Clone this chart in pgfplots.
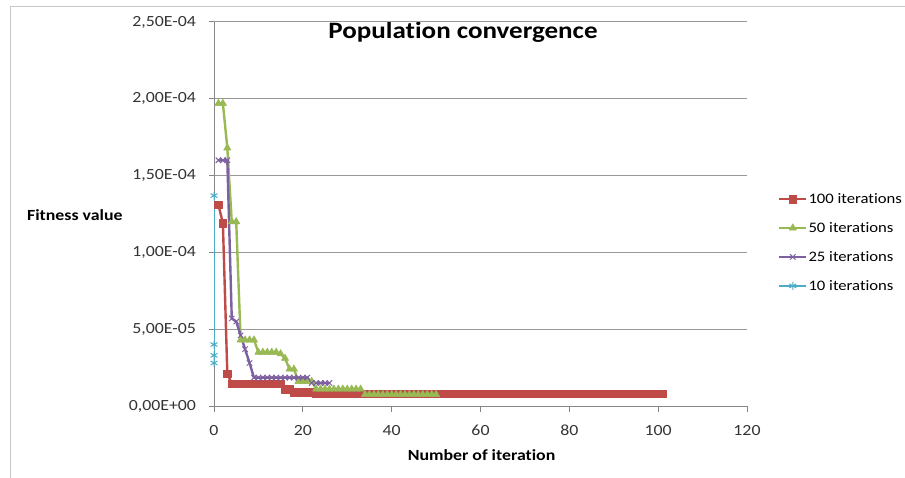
\documentclass[border=0pt]{standalone}
\usepackage{fontspec}
\setmainfont{Carlito}[FakeStretch=1.15, Ligatures=NoCommon]
\usepackage{pgfplots}
\pgfplotsset{compat=1.18}

\definecolor{sred}{HTML}{BE4B48}
\definecolor{sgreen}{HTML}{98B954}
\definecolor{spurple}{HTML}{7D60A0}
\definecolor{scyan}{HTML}{4BACC6}
\definecolor{axgray}{HTML}{868686}
\definecolor{gridgray}{HTML}{989898}
\definecolor{framegray}{HTML}{C8C8C8}

\begin{document}
\begin{tikzpicture}[x=1pt,y=1pt]
\useasboundingbox (0,0) rectangle (905,477);
\draw[framegray, line width=1.2pt] (10.5,-5) -- (10.5,470.5) -- (910,470.5);
\node[font=\fontsize{23.5}{26}\selectfont\bfseries, anchor=base] at (463,438.7) {Population convergence};
\begin{axis}[
  at={(214pt,71pt)}, anchor=south west,
  scale only axis, width=533pt, height=384pt,
  xmin=0, xmax=120, ymin=0, ymax=2.5e-4,
  axis lines=left,
  axis line style={-, draw=axgray, line width=1pt},
  xtick={0,20,...,120},
  ytick={0,5e-5,1e-4,1.5e-4,2e-4,2.5e-4},
  yticklabels={{0,00E+00},{5,00E-05},{1,00E-04},{1,50E-04},{2,00E-04},{2,50E-04}},
  scaled y ticks=false,
  /pgf/number format/assume math mode=true,
  ymajorgrids,
  grid style={draw=gridgray, line width=1pt},
  tick align=outside, major tick length=5.5pt,
  tick style={draw=axgray, line width=1pt},
  ticklabel style={font=\fontsize{15.5}{17}\selectfont, text=black!80},
  xticklabel style={yshift=-10pt},
  yticklabel style={xshift=-9pt},
  xlabel={Number of iteration},
  ylabel={Fitness value},
  every axis x label/.style={at={(axis description cs:0.502,-0.1425)}, anchor=base, font=\fontsize{15.5}{17}\selectfont\bfseries},
  every axis y label/.style={at={(axis description cs:-0.261,0.484)}, anchor=base, font=\fontsize{15.5}{17}\selectfont\bfseries},
  legend style={at={(axis description cs:1.058,0.426)}, anchor=west, draw=none, fill=none,
    inner sep=0pt, row sep=15.5pt, font=\fontsize{14.5}{16}\selectfont,
    nodes={inner sep=1pt}},
  legend cell align=left,
  legend image code/.code={\draw[#1, mark repeat=2, mark phase=2] plot coordinates {(0pt,0pt) (13.5pt,0pt) (27pt,0pt)};},
  every axis plot/.append style={line width=2.4pt, line join=round},
]
\addplot[sred, mark=square*, mark size=3.8pt, mark options={solid, line width=0.5pt}] coordinates {
(1,1.31e-4) (2,1.19e-4) (3,2.1e-5) (4,1.45e-5) (5,1.45e-5) (6,1.45e-5) (7,1.45e-5) (8,1.45e-5)
(9,1.45e-5) (10,1.45e-5) (11,1.45e-5) (12,1.45e-5) (13,1.45e-5) (14,1.45e-5) (15,1.45e-5)
(16,1.1e-5) (17,1.1e-5) (18,9e-6) (19,9e-6) (20,9e-6) (21,9e-6) (22,9e-6)
(23,8e-6) (24,8e-6) (25,8e-6) (26,8e-6) (27,8e-6) (28,8e-6) (29,8e-6) (30,8e-6)
(31,8e-6) (32,8e-6) (33,8e-6) (34,8e-6) (35,8e-6) (36,8e-6) (37,8e-6) (38,8e-6)
(39,8e-6) (40,8e-6) (41,8e-6) (42,8e-6) (43,8e-6) (44,8e-6) (45,8e-6) (46,8e-6)
(47,8e-6) (48,8e-6) (49,8e-6) (50,8e-6) (51,8e-6) (52,8e-6) (53,8e-6) (54,8e-6)
(55,8e-6) (56,8e-6) (57,8e-6) (58,8e-6) (59,8e-6) (60,8e-6) (61,8e-6) (62,8e-6)
(63,8e-6) (64,8e-6) (65,8e-6) (66,8e-6) (67,8e-6) (68,8e-6) (69,8e-6) (70,8e-6)
(71,8e-6) (72,8e-6) (73,8e-6) (74,8e-6) (75,8e-6) (76,8e-6) (77,8e-6) (78,8e-6)
(79,8e-6) (80,8e-6) (81,8e-6) (82,8e-6) (83,8e-6) (84,8e-6) (85,8e-6) (86,8e-6)
(87,8e-6) (88,8e-6) (89,8e-6) (90,8e-6) (91,8e-6) (92,8e-6) (93,8e-6) (94,8e-6)
(95,8e-6) (96,8e-6) (97,8e-6) (98,8e-6) (99,8e-6) (100,8e-6) (101,8e-6)
};
\addlegendentry{100 iterations}
\addplot[sgreen, mark=triangle*, mark size=4.2pt, mark options={solid, line width=0.5pt}] coordinates {
(1,1.97e-4) (2,1.97e-4) (3,1.68e-4) (4,1.2e-4) (5,1.2e-4) (6,4.3e-5) (7,4.3e-5) (8,4.3e-5)
(9,4.3e-5) (10,3.5e-5) (11,3.5e-5) (12,3.5e-5) (13,3.5e-5) (14,3.5e-5) (15,3.4e-5)
(16,3.1e-5) (17,2.4e-5) (18,2.4e-5) (19,1.6e-5) (20,1.6e-5) (21,1.6e-5) (22,1.6e-5)
(23,1.1e-5) (24,1.1e-5) (25,1.1e-5) (26,1.1e-5) (27,1.1e-5) (28,1.1e-5) (29,1.1e-5)
(30,1.1e-5) (31,1.1e-5) (32,1.1e-5) (33,1.1e-5) (34,7.5e-6) (35,7.5e-6) (36,7.5e-6)
(37,7.5e-6) (38,7.5e-6) (39,7.5e-6) (40,7.5e-6) (41,7.5e-6) (42,7.5e-6) (43,7.5e-6)
(44,7.5e-6) (45,7.5e-6) (46,7.5e-6) (47,7.5e-6) (48,7.5e-6) (49,7.5e-6) (50,7.5e-6)
};
\addlegendentry{50 iterations}
\addplot[spurple, mark=x, mark size=3.8pt, mark options={solid, line width=1pt}] coordinates {
(1,1.6e-4) (2,1.6e-4) (3,1.6e-4) (4,5.7e-5) (5,5.5e-5) (6,4.6e-5) (7,3.7e-5) (8,2.8e-5)
(9,1.85e-5) (10,1.85e-5) (11,1.85e-5) (12,1.85e-5) (13,1.85e-5) (14,1.85e-5) (15,1.85e-5)
(16,1.85e-5) (17,1.85e-5) (18,1.85e-5) (19,1.85e-5) (20,1.85e-5) (21,1.85e-5)
(22,1.5e-5) (23,1.5e-5) (24,1.5e-5) (25,1.5e-5) (26,1.5e-5)
};
\addlegendentry{25 iterations}
\addplot[scyan, mark=asterisk, mark size=4pt, mark options={solid, line width=1pt}] coordinates {
(0,1.37e-4) (0,4.0e-5) (0,3.3e-5) (0,2.8e-5)
};
\addlegendentry{10 iterations}
\end{axis}
\end{tikzpicture}
\end{document}
